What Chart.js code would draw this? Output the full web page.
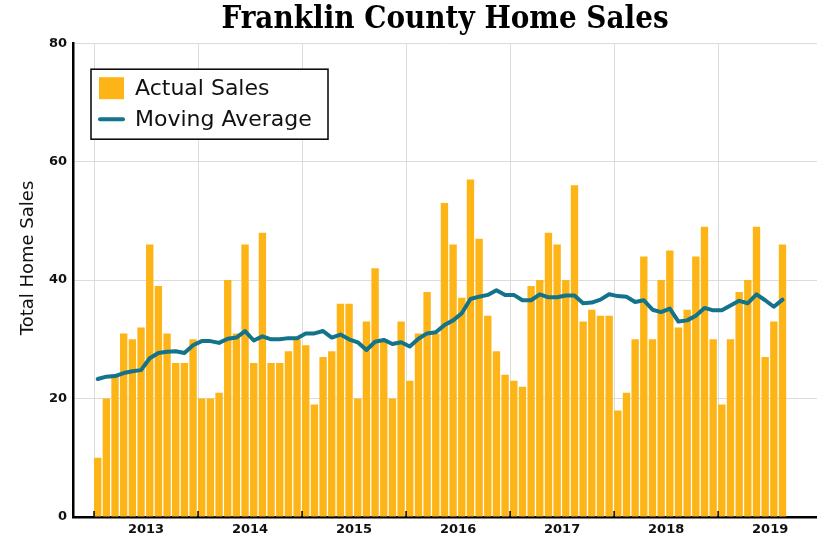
<!DOCTYPE html>
<html>
<head>
<meta charset="utf-8">
<script src="https://cdn.jsdelivr.net/npm/chart.js@4.4.0/dist/chart.umd.min.js"></script>
<style>
  html, body { margin: 0; padding: 0; background: #fff; }
  #wrap { width: 817px; height: 550px; }
</style>
</head>
<body>
<div id="wrap"><canvas id="salesChart"></canvas></div>
<script>
// monthly sales, first bar = first month of 2013 block
var years = ['2013', '2014', '2015', '2016', '2017', '2018', '2019'];
var sales = [
  10, 20, 24, 31, 30, 32, 46, 39, 31, 26, 26, 30,
  20, 20, 21, 40, 31, 46, 26, 48, 26, 26, 28, 30,
  29, 19, 27, 28, 36, 36, 20, 33, 42, 30, 20, 33,
  23, 31, 38, 31, 53, 46, 37, 57, 47, 34, 28, 24,
  23, 22, 39, 40, 48, 46, 40, 56, 33, 35, 34, 34,
  18, 21, 30, 44, 30, 40, 45, 32, 35, 44, 49, 30,
  19, 30, 38, 40, 49, 27, 33, 46
];
var movingAvg = [
  23.3, 23.7, 23.8, 24.3, 24.6, 24.8, 26.8, 27.7, 27.9, 28.0, 27.7, 29.0,
  29.7, 29.7, 29.4, 30.1, 30.3, 31.4, 29.8, 30.5, 30.0, 30.0, 30.2, 30.2,
  31.0, 31.0, 31.4, 30.3, 30.8, 30.0, 29.5, 28.2, 29.6, 29.9, 29.2, 29.5,
  28.8, 30.1, 31.0, 31.2, 32.4, 33.2, 34.4, 36.8, 37.2, 37.5, 38.3, 37.5,
  37.5, 36.6, 36.6, 37.6, 37.1, 37.1, 37.4, 37.4, 36.1, 36.2, 36.7, 37.6,
  37.3, 37.2, 36.3, 36.6, 35.0, 34.6, 35.2, 33.0, 33.2, 34.0, 35.3, 34.9,
  34.9, 35.7, 36.5, 36.1, 37.6, 36.6, 35.5, 36.7
];
var yTicks = [0, 20, 40, 60, 80];

var barColor = '#FDB417';
var lineColor = '#13738A';
var sansFont = "'DejaVu Sans', sans-serif";
var xMin = -2.85, xMax = 82.98;

function points(arr) {
  var out = [];
  for (var i in arr) out.push({ x: Number(i), y: arr[i] });
  return out;
}

// x ticks: year boundaries carry the grid line, mid-year ticks carry the label
function yearTicks(scale) {
  var t = [];
  for (var k = 0; k < years.length; k++) {
    t.push({ value: 12 * k - 0.425, boundary: true });
    t.push({ value: 12 * k + 5.575, label: years[k] });
  }
  scale.ticks = t;
}

var boxLegend = {
  id: 'boxLegend',
  afterDraw: function(chart) {
    var ctx = chart.ctx, a = chart.chartArea;
    var x = a.left + 18, y = a.top + 26, w = 237, h = 70;
    ctx.save();
    ctx.fillStyle = '#fff';
    ctx.fillRect(x, y, w, h);
    ctx.strokeStyle = '#000';
    ctx.lineWidth = 1.5;
    ctx.strokeRect(x, y, w, h);
    ctx.font = '22px ' + sansFont;
    ctx.textBaseline = 'middle';
    chart.data.datasets.forEach(function(ds, i) {
      var cy = y + 19 + i * 31;
      if (ds.type === 'line') {
        ctx.strokeStyle = ds.borderColor;
        ctx.lineWidth = 4;
        ctx.lineCap = 'round';
        ctx.beginPath();
        ctx.moveTo(x + 9, cy);
        ctx.lineTo(x + 32, cy);
        ctx.stroke();
      } else {
        ctx.fillStyle = ds.backgroundColor;
        ctx.fillRect(x + 8, cy - 11, 25, 22);
      }
      ctx.fillStyle = '#111';
      ctx.fillText(ds.label, x + 44, cy + 1);
    });
    ctx.restore();
  }
};

var axisExtras = {
  id: 'axisExtras',
  afterDraw: function(chart) {
    var ctx = chart.ctx, a = chart.chartArea, xs = chart.scales.x;
    ctx.save();
    // inward tick marks at year boundaries
    ctx.strokeStyle = '#000';
    ctx.lineWidth = 1.5;
    xs.ticks.forEach(function(t) {
      if (!t.boundary) return;
      var px = xs.getPixelForValue(t.value);
      ctx.beginPath();
      ctx.moveTo(px, a.bottom);
      ctx.lineTo(px, a.bottom - 6);
      ctx.stroke();
    });
    // y axis title
    ctx.translate(28, 258);
    ctx.rotate(-Math.PI / 2);
    ctx.font = '18px ' + sansFont;
    ctx.fillStyle = '#111';
    ctx.textAlign = 'center';
    ctx.textBaseline = 'middle';
    ctx.fillText('Total Home Sales', 0, 0);
    ctx.restore();
  }
};

var ctx = document.getElementById('salesChart');

new Chart(ctx, {
  data: {
    datasets: [
      {
        type: 'bar',
        label: 'Actual Sales',
        data: points(sales),
        backgroundColor: barColor,
        borderWidth: 0,
        categoryPercentage: 0.85,
        barPercentage: 1.0,
        order: 1
      },
      {
        type: 'line',
        label: 'Moving Average',
        data: points(movingAvg),
        borderColor: lineColor,
        borderWidth: 4,
        borderJoinStyle: 'round',
        borderCapStyle: 'round',
        pointRadius: 0,
        tension: 0,
        fill: false,
        order: 0
      }
    ]
  },
  options: {
    responsive: true,
    maintainAspectRatio: false,
    animation: false,
    layout: { padding: 0 },
    plugins: {
      legend: { display: false },
      tooltip: { enabled: false },
      title: {
        display: true,
        text: 'Franklin County Home Sales',
        fullSize: false,
        color: '#000',
        font: { family: "'DejaVu Serif Condensed', 'DejaVu Serif', serif", weight: 'bold', size: 31 },
        padding: { top: 1, bottom: 5 }
      }
    },
    scales: {
      x: {
        type: 'linear',
        min: xMin,
        max: xMax,
        offset: false,
        afterBuildTicks: yearTicks,
        afterFit: function(s) { s.height = 33; s.paddingLeft = 0; s.paddingRight = 0; },
        grid: {
          offset: false,
          drawTicks: false,
          color: function(c) { return c.tick && c.tick.boundary ? '#dcdcdc' : 'rgba(0,0,0,0)'; },
          lineWidth: 1
        },
        border: { color: '#000', width: 2.5 },
        ticks: {
          autoSkip: false,
          maxRotation: 0,
          padding: 5,
          color: '#111',
          font: { family: sansFont, weight: 'bold', size: 13 },
          callback: function(v, i, t) { return t[i].label || ''; }
        }
      },
      y: {
        min: 0,
        max: 80,
        afterBuildTicks: function(s) { s.ticks = yTicks.map(function(v) { return { value: v }; }); },
        afterFit: function(s) { s.width = 73; },
        grid: { color: '#dcdcdc', lineWidth: 1, drawTicks: false },
        border: { color: '#000', width: 2.5 },
        ticks: {
          padding: 6,
          color: '#111',
          font: { family: sansFont, weight: 'bold', size: 13 }
        }
      }
    }
  },
  plugins: [boxLegend, axisExtras]
});
</script>
</body>
</html>
